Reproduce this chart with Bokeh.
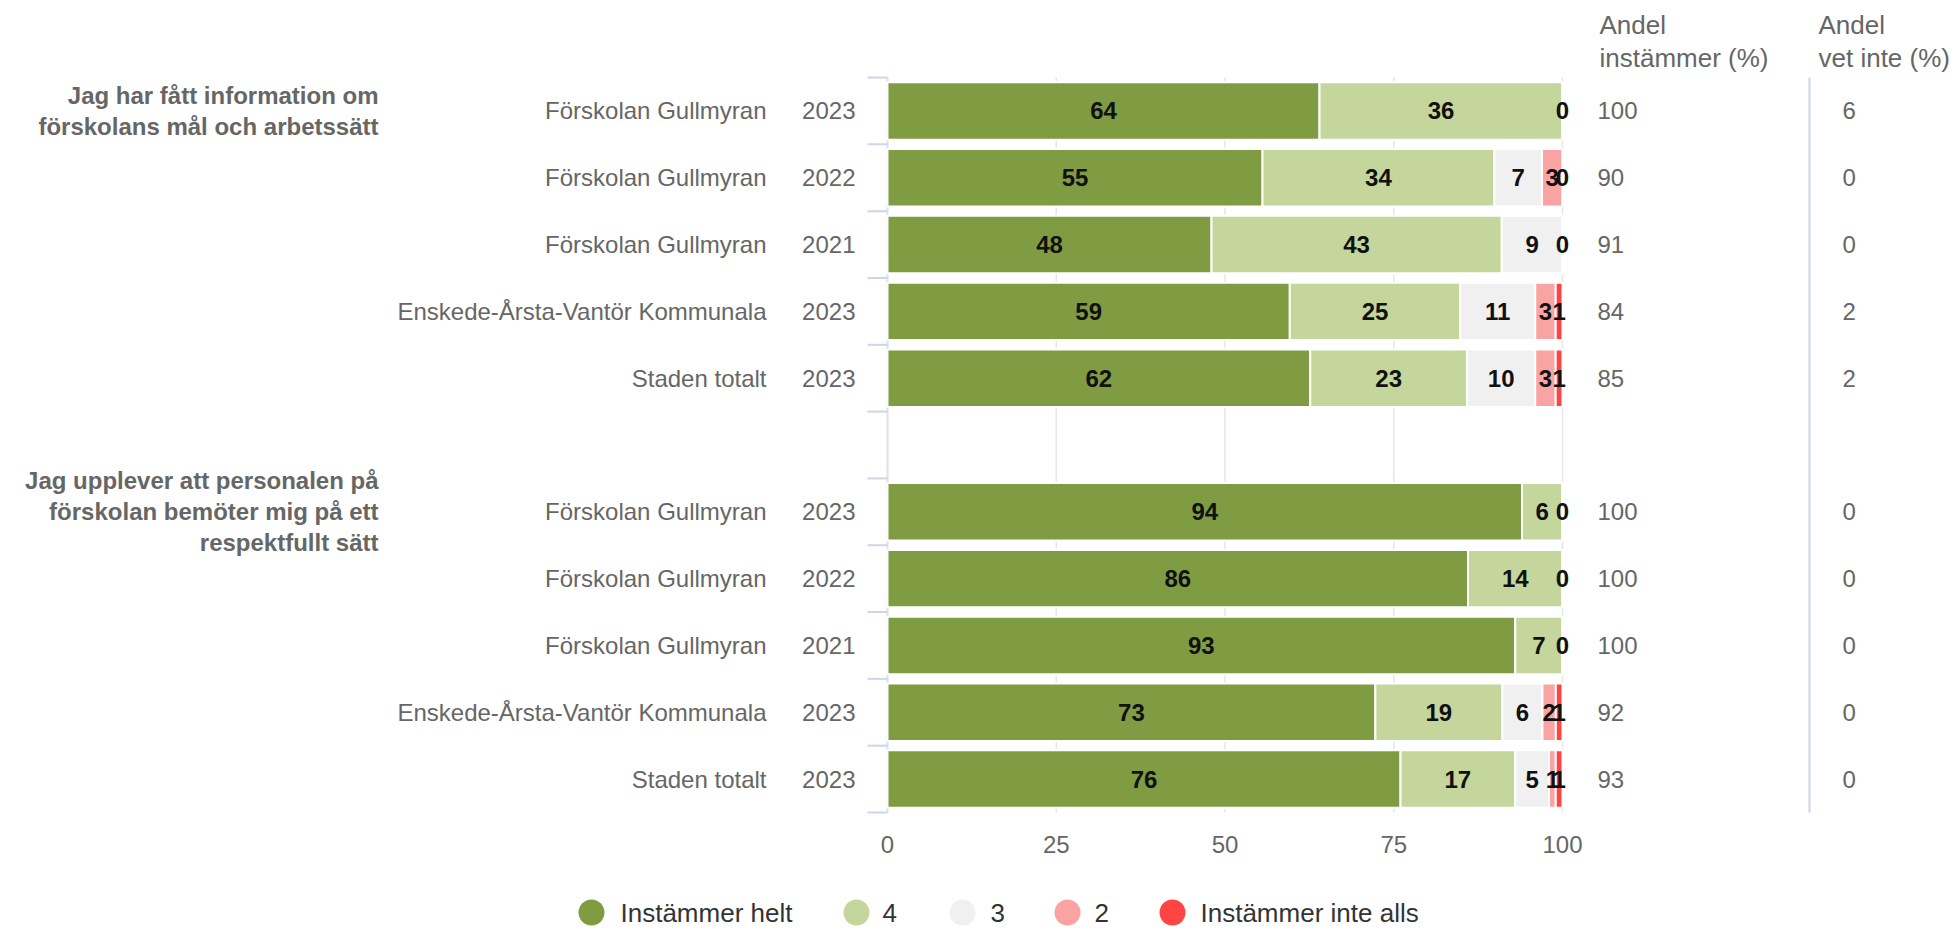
from bokeh.plotting import figure
from bokeh.models import Range1d, ColumnDataSource, LabelSet, Label
from bokeh.embed import file_html
from bokeh.resources import INLINE
from bokeh.core.properties import value

# ---------------- data ----------------
questions = [
    "Jag har fått information om\nförskolans mål och arbetssätt",
    "Jag upplever att personalen på\nförskolan bemöter mig på ett\nrespektfullt sätt",
]
units = ["Förskolan Gullmyran", "Förskolan Gullmyran", "Förskolan Gullmyran",
         "Enskede-Årsta-Vantör Kommunala", "Staden totalt"]
years = ["2023", "2022", "2021", "2023", "2023"]
series = ["Instämmer helt", "4", "3", "2", "Instämmer inte alls"]
colors = ["#7f9c43", "#c4d69c", "#f0f0f0", "#f9a3a3", "#ff4444"]

helt = [64, 55, 48, 59, 62, 94, 86, 93, 73, 76]
v4 = [36, 34, 43, 25, 23, 6, 14, 7, 19, 17]
v3 = [0, 7, 9, 11, 10, 0, 0, 0, 6, 5]
v2 = [0, 3, 0, 3, 3, 0, 0, 0, 2, 1]
inte = [0, 0, 0, 1, 1, 0, 0, 0, 1, 1]
andel_instammer = [100, 90, 91, 84, 85, 100, 100, 100, 92, 93]
andel_vet_inte = [6, 0, 0, 2, 2, 0, 0, 0, 0, 0]
header_1 = "Andel\ninstämmer (%)"
header_2 = "Andel\nvet inte (%)"
x_ticks = [0, 25, 50, 75, 100]

# ---------------- layout constants (canvas px) ----------------
W, H = 1955, 928
FL, FR, FT, FB = 887, 1562, 77, 812  # plot-area edges
FONT = "Liberation Sans"
GREY = "#666666"
LEG_CX = [591, 856, 962, 1067, 1172]   # legend symbol centres
LEG_TX = [620, 882, 990, 1094, 1200]   # legend text starts
LEG_Y = 912

n_rows = len(units)
rows_all = len(helt)
slots = [i + i // n_rows for i in range(rows_all)]
n_slots = rows_all + len(questions) - 1

PX = (FR - FL) / 100.0          # px per x unit
PY = (FB - FT) / n_slots        # px per slot
x_range = Range1d(-FL / PX, (W - FL) / PX)
y_range = Range1d((n_slots - 0.5) + (H - FB) / PY, -0.5 - FT / PY)


def xd(px):
    return (px - FL) / PX


def yd(py):
    return -0.5 + (py - FT) / PY


p = figure(width=W, height=H, output_backend="svg", toolbar_location=None,
           x_range=x_range, y_range=y_range,
           x_axis_location=None, y_axis_location=None,
           min_border=0)
p.outline_line_color = None
p.background_fill_color = "white"
p.border_fill_color = "white"
p.grid.visible = False

top, bot = -0.5, n_slots - 0.5

# grid lines of the value axis
p.segment(x0=x_ticks, x1=x_ticks, y0=[top] * len(x_ticks), y1=[bot] * len(x_ticks),
          line_color="#e6e6e6", line_width=1.5)
# category axis line and boundary ticks
bounds = [b - 0.5 for b in range(n_slots + 1)]
p.segment(x0=[0], x1=[0], y0=[top], y1=[bot], line_color="#dfe3ea", line_width=2)
p.segment(x0=[-20 / PX] * len(bounds), x1=[0] * len(bounds), y0=bounds, y1=bounds,
          line_color="#ccd6eb", line_width=2)

# value-axis tick labels
p.add_layout(LabelSet(x="x", y="y", text="t",
                      source=ColumnDataSource(dict(x=x_ticks, y=[bot] * len(x_ticks),
                                                   t=[str(t) for t in x_ticks])),
                      y_offset=-32, text_align="center", text_baseline="middle",
                      text_font=value(FONT), text_font_size="24px", text_color=GREY))

# ---------------- stacked bars (percent stacking) ----------------
vals = [helt, v4, v3, v2, inte]
totals = [sum(v[i] for v in vals) for i in range(rows_all)]
lab_x, lab_y, lab_t = [], [], []
seen = set()
cum = [0.0] * rows_all
for v, c in zip(vals, colors):
    left = [cum[i] for i in range(rows_all)]
    right = [cum[i] + 100.0 * v[i] / totals[i] for i in range(rows_all)]
    cum = right
    src = ColumnDataSource(dict(y=slots, left=left, right=right))
    p.hbar(y="y", left="left", right="right", height=0.86, source=src,
           fill_color=c, line_color="white", line_width=2)
    for i in range(rows_all):
        xm = round((left[i] + right[i]) / 2, 3)
        if (i, xm) in seen:
            continue
        seen.add((i, xm))
        lab_x.append(xm)
        lab_y.append(slots[i])
        lab_t.append(str(v[i]))

p.add_layout(LabelSet(x="x", y="y", text="t",
                      source=ColumnDataSource(dict(x=lab_x, y=lab_y, t=lab_t)),
                      text_align="center", text_baseline="middle",
                      text_font=value(FONT), text_font_size="24px",
                      text_font_style="bold", text_color="#111111"))

# ---------------- category labels and value columns ----------------
cat_src = ColumnDataSource(dict(
    y=slots, x=[0] * rows_all,
    unit=units * len(questions), year=years * len(questions),
    a=[str(v) for v in andel_instammer], b=[str(v) for v in andel_vet_inte],
    r=[100] * rows_all))
common = dict(text_baseline="middle", text_font=value(FONT),
              text_font_size="24px", text_color=GREY)
p.add_layout(LabelSet(x="x", y="y", text="unit", source=cat_src, x_offset=766 - FL,
                      text_align="right", **common))
p.add_layout(LabelSet(x="x", y="y", text="year", source=cat_src, x_offset=855 - FL,
                      text_align="right", **common))
p.add_layout(LabelSet(x="r", y="y", text="a", source=cat_src, x_offset=1597 - FR,
                      text_align="left", **common))
p.add_layout(LabelSet(x="r", y="y", text="b", source=cat_src, x_offset=1842 - FR,
                      text_align="left", **common))

# group (question) labels
for g, q in enumerate(questions):
    lines = q.split("\n")
    n = len(lines)
    for k, line in enumerate(lines):
        p.add_layout(Label(x=0, y=slots[g * n_rows], text=line,
                           x_offset=378 - FL, y_offset=-(k - (n - 1) / 2) * 31,
                           text_align="right", text_baseline="middle",
                           text_font=FONT, text_font_size="24px",
                           text_font_style="bold", text_color=GREY))

# column headers
for hdr, off in ((header_1, 1599 - FR), (header_2, 1818 - FR)):
    for k, line in enumerate(hdr.split("\n")):
        p.add_layout(Label(x=100, y=top, text=line, x_offset=off,
                           y_offset=(FT - 24) - k * 33,
                           text_align="left", text_baseline="middle",
                           text_font=FONT, text_font_size="26px",
                           text_color=GREY))

# divider between the two value columns
xdiv = xd(1809)
p.segment(x0=[xdiv], x1=[xdiv], y0=[top], y1=[bot], line_color="#ccd6eb", line_width=2)

# ---------------- legend (drawn as symbols + labels) ----------------
ly = yd(LEG_Y)
p.scatter(x=[xd(c) for c in LEG_CX], y=[ly] * len(series), marker="circle", size=26,
          fill_color=colors, line_color=None)
p.add_layout(LabelSet(x="x", y="y", text="t",
                      source=ColumnDataSource(dict(x=[xd(t) for t in LEG_TX],
                                                   y=[ly] * len(series), t=series)),
                      text_align="left", text_baseline="middle",
                      text_font=value(FONT), text_font_size="26px",
                      text_color="#333333"))

open("out.html", "w").write(file_html(p, INLINE))
